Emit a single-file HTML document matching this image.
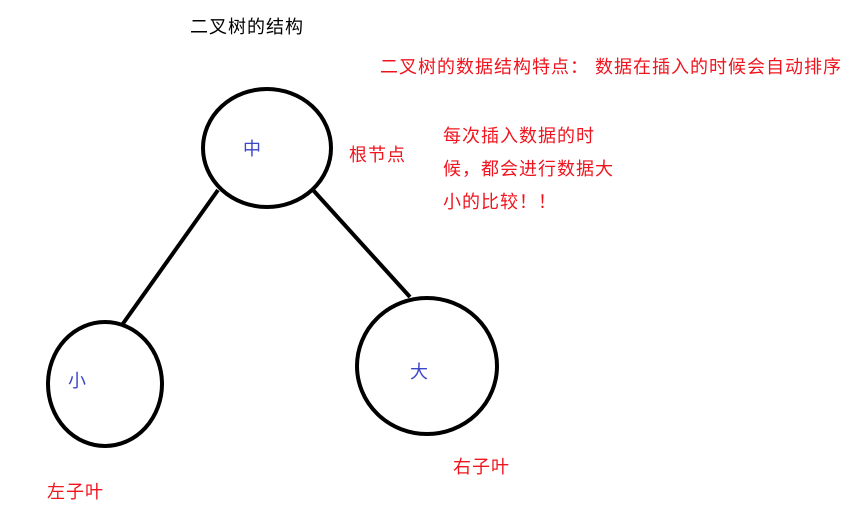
<!DOCTYPE html>
<html><head><meta charset="utf-8"><style>
body{margin:0;background:#fff;width:852px;height:506px;overflow:hidden;position:relative;font-family:"Liberation Sans","Noto Sans CJK SC",sans-serif;}
.t{position:absolute;font-size:18px;letter-spacing:1px;line-height:20px;white-space:nowrap;}
.r{color:#f0141e}.b{color:#3c46c8}
</style></head><body>
<svg width="852" height="506" style="position:absolute;left:0;top:0">
<g fill="none" stroke="#000" stroke-width="4">
<ellipse cx="267" cy="148" rx="64" ry="59"/>
<ellipse cx="105" cy="384" rx="57" ry="62"/>
<ellipse cx="427" cy="366" rx="70" ry="68"/>
<line x1="218" y1="190" x2="122" y2="325"/>
<line x1="313" y1="190" x2="410" y2="297"/>
</g></svg>
<div class="t" style="left:190px;top:17px;color:#000">二叉树的结构</div>
<div class="t r" style="left:380px;top:57px">二叉树的数据结构特点： 数据在插入的时候会自动排序</div>
<div class="t r" style="left:349px;top:145px">根节点</div>
<div class="t r" style="left:443px;top:120px;line-height:33px">每次插入数据的时<br>候，都会进行数据大<br>小的比较！！</div>
<div class="t b" style="left:243px;top:139px">中</div>
<div class="t b" style="left:68px;top:371px">小</div>
<div class="t b" style="left:410px;top:362px">大</div>
<div class="t r" style="left:47px;top:482px">左子叶</div>
<div class="t r" style="left:453px;top:457px">右子叶</div>
</body></html>
